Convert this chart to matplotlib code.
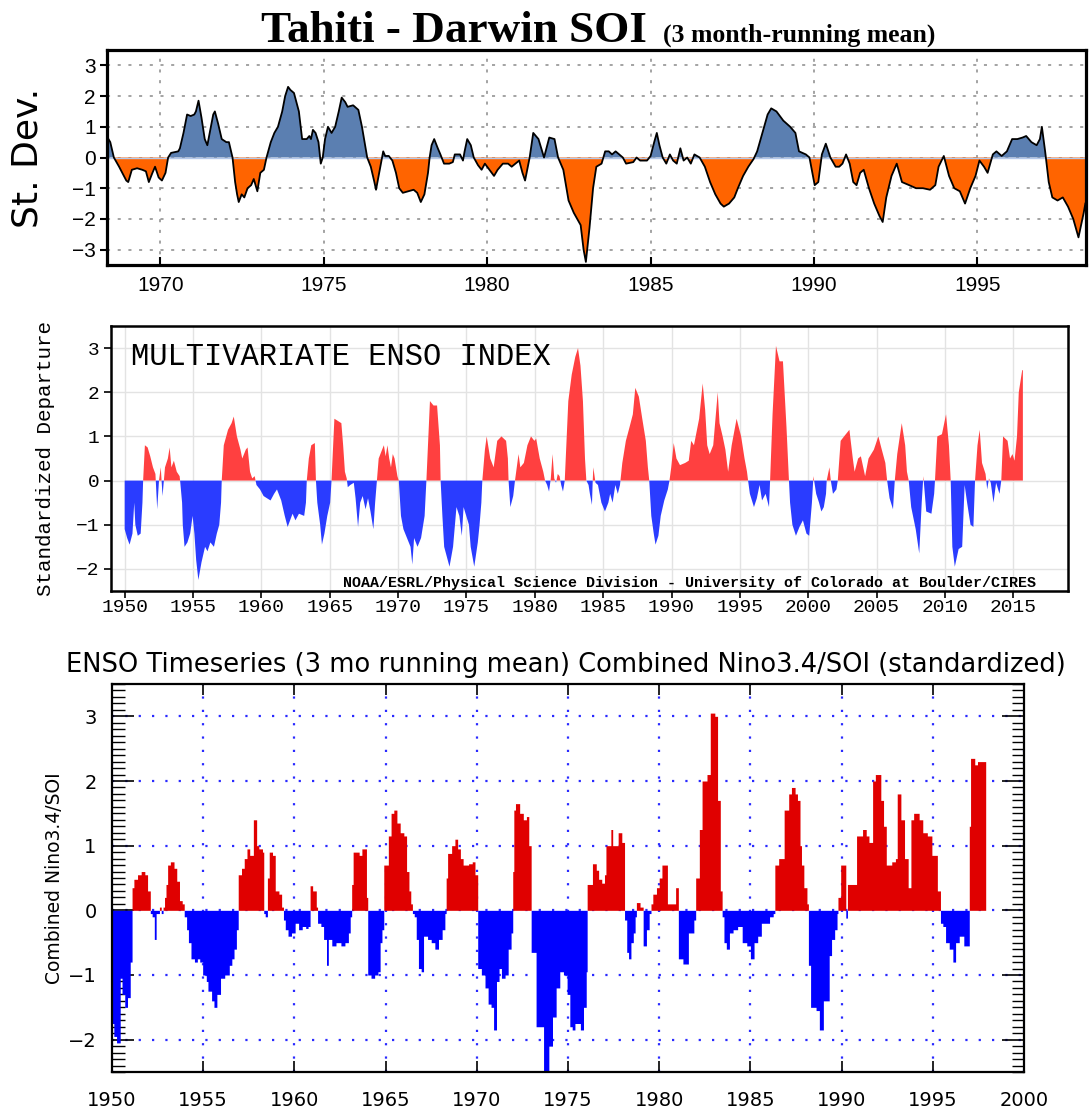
import matplotlib
matplotlib.use("Agg")
import matplotlib.pyplot as plt
import numpy as np
from matplotlib.ticker import MultipleLocator

# --- Tahiti - Darwin SOI (3 month running mean) ---
soi_year = np.array([
    1968.36, 1968.47, 1968.58, 1968.74, 1968.96, 1969.02, 1969.13, 1969.29, 1969.45, 1969.56, 1969.65, 1969.76, 1969.84, 1969.95,
    1970.05, 1970.16, 1970.24, 1970.33, 1970.55, 1970.60, 1970.71, 1970.82, 1970.93, 1971.04, 1971.09, 1971.17, 1971.26, 1971.36, 1971.44, 1971.53, 1971.62, 1971.67, 1971.77, 1971.88,
    1972.02, 1972.10, 1972.21, 1972.29, 1972.35, 1972.40, 1972.49, 1972.57, 1972.67, 1972.78, 1972.86, 1972.97,
    1973.06, 1973.17, 1973.25, 1973.38, 1973.49, 1973.60, 1973.73, 1973.82, 1973.91, 1973.98,
    1974.09, 1974.24, 1974.34, 1974.48, 1974.56, 1974.61, 1974.67, 1974.75, 1974.84, 1974.91, 1974.97,
    1975.04, 1975.13, 1975.24, 1975.35, 1975.46, 1975.55, 1975.66, 1975.73, 1975.90,
    1976.06, 1976.17, 1976.28, 1976.33, 1976.44, 1976.55, 1976.60, 1976.68, 1976.75, 1976.82, 1976.88, 1976.99,
    1977.10, 1977.21, 1977.31, 1977.42, 1977.59, 1977.75, 1977.86, 1977.97,
    1978.08, 1978.19, 1978.24, 1978.30, 1978.38, 1978.49, 1978.57, 1978.68, 1978.84, 1978.95,
    1979.01, 1979.17, 1979.26, 1979.31, 1979.39, 1979.50, 1979.59, 1979.72, 1979.83, 1979.93,
    1980.07, 1980.21, 1980.32, 1980.48, 1980.64, 1980.75, 1980.98,
    1981.08, 1981.16, 1981.30, 1981.41, 1981.57, 1981.74, 1981.90,
    1982.06, 1982.17, 1982.33, 1982.49, 1982.65, 1982.86, 1982.95,
    1983.02, 1983.13, 1983.24, 1983.34, 1983.50, 1983.61, 1983.72, 1983.82, 1983.93,
    1984.15, 1984.25, 1984.47, 1984.57, 1984.68, 1984.89,
    1985.00, 1985.11, 1985.19, 1985.27, 1985.37, 1985.48, 1985.59, 1985.69, 1985.80, 1985.91,
    1986.01, 1986.12, 1986.23, 1986.34, 1986.50, 1986.66, 1986.82, 1986.98,
    1987.14, 1987.24, 1987.40, 1987.56, 1987.67, 1987.83, 1987.99,
    1988.15, 1988.26, 1988.42, 1988.58, 1988.69, 1988.85,
    1989.06, 1989.27, 1989.43, 1989.54, 1989.75, 1989.86,
    1990.02, 1990.13, 1990.24, 1990.36, 1990.50, 1990.66, 1990.77, 1990.87, 1990.98,
    1991.09, 1991.20, 1991.30, 1991.41, 1991.52, 1991.68, 1991.84,
    1992.00, 1992.10, 1992.21, 1992.37, 1992.53, 1992.69, 1992.91,
    1993.12, 1993.33, 1993.55, 1993.71, 1993.81, 1993.97,
    1994.13, 1994.29, 1994.46, 1994.62, 1994.78, 1994.94,
    1995.06, 1995.20, 1995.31, 1995.47, 1995.58, 1995.74, 1995.90,
    1996.06, 1996.22, 1996.38, 1996.49, 1996.65, 1996.81, 1996.91, 1996.97,
    1997.07, 1997.18, 1997.29, 1997.45, 1997.61, 1997.77, 1997.93,
    1998.09, 1998.25, 1998.30])
soi_val = np.array([
    0.7, 0.5, 0.0, -0.3, -0.75, -0.8, -0.4, -0.35, -0.4, -0.45, -0.8, -0.5, -0.3, -0.65,
    -0.75, -0.5, 0.0, 0.15, 0.2, 0.3, 0.8, 1.4, 1.35, 1.4, 1.5, 1.85, 1.3, 0.6, 0.4, 0.9, 1.4, 1.5, 1.1, 0.6,
    0.5, 0.5, 0.0, -0.8, -1.2, -1.45, -1.2, -1.3, -1.0, -0.9, -0.7, -1.1,
    -0.5, -0.4, 0.0, 0.5, 0.8, 1.0, 1.5, 2.0, 2.3, 2.2,
    2.1, 1.5, 0.6, 0.6, 0.7, 0.6, 0.9, 0.8, 0.5, -0.2, 0.0,
    0.6, 1.0, 0.8, 1.0, 1.5, 1.95, 1.8, 1.65, 1.7,
    1.55, 1.0, 0.3, 0.0, -0.3, -0.8, -1.05, -0.6, -0.2, 0.2, 0.05, 0.05,
    -0.1, -0.5, -1.0, -1.15, -1.1, -1.05, -1.15, -1.45,
    -1.2, -0.5, 0.0, 0.4, 0.6, 0.3, 0.1, -0.2, -0.2, -0.15,
    0.1, 0.1, -0.1, 0.2, 0.6, 0.4, 0.0, -0.25, -0.4, -0.2,
    -0.4, -0.6, -0.4, -0.2, -0.2, -0.3, -0.1,
    -0.5, -0.75, 0.0, 0.8, 0.6, 0.0, 0.65,
    0.6, 0.0, -0.4, -1.4, -1.8, -2.2, -3.0,
    -3.4, -2.3, -1.0, -0.3, -0.2, 0.2, 0.2, 0.1, 0.2,
    0.0, -0.2, -0.15, 0.0, -0.1, -0.1,
    0.05, 0.5, 0.8, 0.4, 0.0, -0.2, 0.1, -0.1, -0.2, 0.3,
    -0.1, 0.0, -0.2, 0.1, 0.0, -0.3, -0.8, -1.2,
    -1.5, -1.6, -1.5, -1.3, -1.0, -0.6, -0.3,
    -0.05, 0.2, 0.8, 1.4, 1.6, 1.5,
    1.2, 1.0, 0.8, 0.2, 0.1, 0.0,
    -0.9, -0.8, 0.1, 0.45, 0.0, -0.3, -0.3, -0.2, 0.1,
    -0.2, -0.8, -0.9, -0.5, -0.4, -1.0, -1.5,
    -1.9, -2.1, -1.3, -0.6, -0.2, -0.8, -0.9,
    -1.0, -1.0, -1.05, -0.9, -0.3, 0.05,
    -0.6, -1.0, -1.1, -1.5, -1.0, -0.6,
    -0.1, -0.3, -0.5, 0.1, 0.2, 0.05, 0.2,
    0.6, 0.6, 0.65, 0.7, 0.5, 0.4, 0.6, 1.0,
    0.2, -0.8, -1.3, -1.4, -1.3, -1.6, -2.0,
    -2.6, -1.8, -1.5])

# --- Multivariate ENSO Index ---
mei_year = np.array([
    1950.00, 1950.18, 1950.36, 1950.57, 1950.70, 1950.78, 1950.96,
    1951.17, 1951.30, 1951.35, 1951.48, 1951.68, 1951.87,
    1952.07, 1952.25, 1952.38, 1952.51, 1952.64, 1952.77, 1952.95,
    1953.16, 1953.29, 1953.42, 1953.60, 1953.81,
    1954.02, 1954.07, 1954.20, 1954.25, 1954.38, 1954.59, 1954.79, 1954.97,
    1955.10, 1955.23, 1955.39, 1955.62, 1955.88,
    1956.06, 1956.27, 1956.53, 1956.74, 1956.92,
    1957.05, 1957.10, 1957.25, 1957.56, 1957.82, 1957.98,
    1958.21, 1958.47, 1958.60, 1958.86, 1958.99,
    1959.17, 1959.33, 1959.51, 1959.64, 1959.90,
    1960.16, 1960.41, 1960.67, 1960.93,
    1961.14, 1961.45, 1961.71, 1961.92,
    1962.10, 1962.28, 1962.49, 1962.75,
    1963.13, 1963.26, 1963.32, 1963.47, 1963.65, 1963.91, 1963.99,
    1964.09, 1964.30, 1964.43, 1964.61, 1964.82,
    1965.03, 1965.13, 1965.34, 1965.60, 1965.85, 1965.98,
    1966.11, 1966.24, 1966.32, 1966.50, 1966.76, 1966.89,
    1967.07, 1967.23, 1967.41, 1967.62, 1967.80, 1967.98,
    1968.19, 1968.32, 1968.45, 1968.58, 1968.83, 1968.96,
    1969.09, 1969.22, 1969.35, 1969.48, 1969.61, 1969.74, 1969.95,
    1970.05, 1970.21, 1970.39, 1970.65, 1970.91,
    1971.04, 1971.17, 1971.42, 1971.68, 1971.94,
    1972.07, 1972.33, 1972.59, 1972.85,
    1973.06, 1973.11, 1973.24, 1973.37, 1973.76,
    1974.02, 1974.27, 1974.48, 1974.66, 1974.79,
    1975.18, 1975.31, 1975.57, 1975.83, 1975.96,
    1976.09, 1976.16, 1976.35, 1976.48, 1976.74, 1976.99,
    1977.25, 1977.56, 1977.90,
    1978.03, 1978.08, 1978.21, 1978.42, 1978.55, 1978.81, 1978.94,
    1979.20, 1979.46, 1979.72, 1979.97,
    1980.10, 1980.36, 1980.62, 1980.75, 1980.90,
    1981.04, 1981.17, 1981.30, 1981.42, 1981.55, 1981.68, 1981.81, 1981.93,
    1982.06, 1982.19, 1982.45, 1982.70, 1982.96,
    1983.16, 1983.34, 1983.52, 1983.67, 1983.77, 1983.93,
    1984.03, 1984.18, 1984.23, 1984.28, 1984.44, 1984.62, 1984.87,
    1985.13, 1985.38, 1985.51, 1985.69, 1985.89,
    1986.07, 1986.23, 1986.40, 1986.66, 1986.92,
    1987.17, 1987.35, 1987.61, 1987.86,
    1988.12, 1988.27, 1988.37, 1988.52, 1988.70, 1988.83,
    1989.04, 1989.21, 1989.47, 1989.73, 1989.85, 1989.98,
    1990.16, 1990.36, 1990.62,
    1991.00, 1991.26, 1991.44, 1991.64,
    1992.02, 1992.28, 1992.46, 1992.61, 1992.79,
    1993.05, 1993.38, 1993.51, 1993.74, 1993.94,
    1994.14, 1994.40, 1994.76,
    1995.09, 1995.34, 1995.52, 1995.60, 1995.73,
    1996.03, 1996.24, 1996.44, 1996.62, 1996.88,
    1997.13, 1997.21, 1997.39, 1997.64, 1997.90,
    1998.15, 1998.41, 1998.59, 1998.67, 1998.84,
    1999.10, 1999.36, 1999.61, 1999.87,
    2000.07, 2000.27, 2000.38, 2000.58, 2000.79, 2000.96,
    2001.14, 2001.30, 2001.35, 2001.55, 2001.65, 2001.81,
    2002.06, 2002.16, 2002.37, 2002.62,
    2003.01, 2003.26, 2003.39, 2003.65, 2003.85,
    2004.16, 2004.41, 2004.80,
    2005.13, 2005.38, 2005.64, 2005.77, 2005.95,
    2006.20, 2006.33, 2006.51, 2006.84,
    2007.09, 2007.22, 2007.35, 2007.53, 2007.86,
    2008.12, 2008.30, 2008.42, 2008.63,
    2009.01, 2009.21, 2009.27, 2009.44, 2009.78,
    2010.08, 2010.29, 2010.42, 2010.54, 2010.72,
    2011.00, 2011.26, 2011.44, 2011.62, 2011.87,
    2012.08, 2012.20, 2012.38, 2012.54, 2012.71, 2012.97,
    2013.09, 2013.22, 2013.35, 2013.55, 2013.74, 2013.99,
    2014.12, 2014.25, 2014.58, 2014.76, 2014.94,
    2015.09, 2015.27, 2015.40, 2015.65, 2015.70])
mei_val = np.array([
    -1.1, -1.3, -1.45, -1.2, -0.5, -1.0, -1.25,
    -1.2, -0.5, 0.0, 0.8, 0.75, 0.55,
    0.3, 0.15, -0.65, 0.0, 0.3, -0.35, 0.3,
    0.5, 0.75, 0.3, 0.45, 0.2,
    0.1, -0.05, -0.5, -1.0, -1.5, -1.4, -1.2, -0.8,
    -1.2, -1.8, -2.25, -1.85, -1.5,
    -1.6, -1.4, -1.5, -1.2, -1.0,
    -0.5, 0.0, 0.8, 1.15, 1.3, 1.45,
    1.0, 0.7, 0.5, 0.7, 0.75,
    0.2, 0.05, 0.1, -0.1, -0.2,
    -0.35, -0.4, -0.45, -0.3,
    -0.2, -0.45, -0.8, -1.05,
    -0.9, -0.75, -0.9, -0.75,
    -0.8, -0.5, 0.0, 0.5, 0.8, 0.85, 0.0,
    -0.5, -1.0, -1.45, -1.2, -0.8,
    -0.5, 0.0, 1.4, 1.35, 1.3, 0.8,
    0.2, 0.05, -0.15, -0.1, -0.05, -0.4,
    -1.05, -0.5, -0.35, -0.65, -0.4, -0.7,
    -1.1, -0.5, 0.0, 0.5, 0.7, 0.8,
    0.55, 0.8, 0.5, 0.3, 0.6, 0.5, 0.1,
    0.0, -0.8, -1.1, -1.3, -1.5,
    -1.9, -1.3, -1.5, -1.3, -0.8,
    0.0, 1.8, 1.7, 1.7,
    0.8, 0.0, -0.8, -1.5, -1.95,
    -1.5, -0.6, -0.8, -1.25, -0.6,
    -1.0, -1.5, -1.95, -1.4, -1.0,
    -0.5, 0.0, 0.7, 1.0, 0.5, 0.3,
    0.9, 1.0, 0.9,
    0.5, 0.0, -0.6, -0.35, 0.0, 0.6, 0.3,
    0.4, 0.8, 1.0, 0.9,
    0.95, 0.5, 0.2, 0.0, -0.1,
    -0.25, 0.05, 0.6, 0.05, -0.05, 0.15, 0.1, -0.1,
    -0.25, 0.0, 1.8, 2.4, 2.8,
    3.0, 2.6, 1.8, 0.5, 0.0, -0.1,
    -0.3, -0.55, -0.05, 0.3, -0.05, -0.1, -0.5,
    -0.7, -0.5, -0.3, -0.5, -0.1,
    -0.3, -0.1, 0.4, 0.9, 1.2,
    1.5, 2.1, 1.9, 1.4,
    0.9, 0.3, 0.0, -0.8, -1.2, -1.45,
    -1.25, -0.8, -0.45, -0.2, 0.0, 0.3,
    0.85, 0.5, 0.35,
    0.4, 0.45, 0.9, 0.8,
    1.4, 2.2, 1.6, 0.8, 0.6,
    0.8, 2.0, 1.3, 1.0, 0.7,
    0.2, 0.8, 1.4,
    1.0, 0.5, 0.2, 0.0, -0.3,
    -0.6, -0.4, -0.1, -0.45, -0.3,
    -0.6, 0.0, 1.5, 3.05, 2.7,
    2.7, 1.2, 0.0, -0.5, -1.0,
    -1.25, -1.05, -0.9, -1.2,
    -1.25, -0.5, 0.1, -0.3, -0.5, -0.7,
    -0.6, -0.3, 0.0, 0.3, 0.0, -0.3,
    -0.2, 0.0, 0.9, 1.0,
    1.15, 0.5, 0.2, 0.5, 0.55,
    0.1, 0.5, 0.7,
    1.0, 0.7, 0.4, 0.0, -0.4,
    -0.65, 0.0, 0.6, 1.3,
    0.8, 0.2, 0.0, -0.6, -1.1,
    -1.65, -0.5, 0.1, -0.7,
    -0.75, -0.3, 0.0, 1.0, 1.05,
    1.5, 0.8, 0.0, -1.5, -1.95,
    -1.55, -1.5, -0.1, -0.5, -1.0,
    -1.05, 0.0, 0.8, 1.15, 0.4, 0.15,
    -0.2, 0.05, -0.05, -0.5, -0.05, -0.3,
    0.0, 1.0, 0.9, 0.5, 0.6,
    0.45, 1.0, 2.0, 2.5, 2.5])

# --- Combined Nino3.4/SOI, step values (start of each step) ---
cn_year = np.array([
    1950.00, 1950.10, 1950.25, 1950.45, 1950.55, 1950.70, 1950.85,
    1951.00, 1951.10, 1951.20, 1951.40, 1951.60, 1951.80, 1951.95,
    1952.10, 1952.20, 1952.32, 1952.42, 1952.60, 1952.70, 1952.80, 1952.88, 1952.96,
    1953.05, 1953.20, 1953.40, 1953.55, 1953.70, 1953.85, 1953.96,
    1954.09, 1954.19, 1954.33, 1954.52, 1954.68, 1954.81, 1954.97,
    1955.17, 1955.26, 1955.46, 1955.59, 1955.75, 1955.95,
    1956.18, 1956.43, 1956.57, 1956.69, 1956.82, 1956.92,
    1957.10, 1957.25, 1957.40, 1957.55, 1957.75, 1957.93,
    1958.05, 1958.25, 1958.32, 1958.40, 1958.52, 1958.62, 1958.80, 1958.95,
    1959.15, 1959.30, 1959.40, 1959.50, 1959.65, 1959.84,
    1960.04, 1960.23, 1960.43, 1960.62, 1960.75, 1960.86,
    1961.00, 1961.20, 1961.27, 1961.45, 1961.60, 1961.76, 1961.86,
    1962.05, 1962.28, 1962.55, 1962.77, 1962.96,
    1963.06, 1963.14, 1963.22, 1963.45, 1963.55, 1963.70, 1963.95,
    1964.02, 1964.20, 1964.40, 1964.58, 1964.70, 1964.80, 1964.90,
    1965.15, 1965.30, 1965.45, 1965.62, 1965.80,
    1966.00, 1966.15, 1966.28, 1966.38, 1966.47, 1966.57, 1966.68, 1966.80, 1966.95,
    1967.08, 1967.30, 1967.50, 1967.70, 1967.90,
    1968.10, 1968.25, 1968.32, 1968.40, 1968.62, 1968.80, 1968.95,
    1969.10, 1969.25, 1969.55, 1969.75, 1969.90,
    1970.05, 1970.25, 1970.45, 1970.62, 1970.78, 1970.92,
    1971.08, 1971.22, 1971.35, 1971.55, 1971.72, 1971.88, 1971.97,
    1972.03, 1972.12, 1972.35, 1972.55, 1972.72, 1972.85, 1972.98,
    1973.25, 1973.66, 1973.95,
    1974.15, 1974.35, 1974.55, 1974.75, 1974.95,
    1975.10, 1975.23, 1975.38, 1975.68, 1975.85,
    1976.00, 1976.05, 1976.34, 1976.55, 1976.68, 1976.85,
    1977.00, 1977.08, 1977.35, 1977.45, 1977.75, 1977.95,
    1978.10, 1978.22, 1978.32, 1978.45, 1978.58, 1978.68, 1978.75, 1978.95,
    1979.12, 1979.30, 1979.45, 1979.55, 1979.65, 1979.85,
    1980.00, 1980.15, 1980.45, 1980.90,
    1981.05, 1981.30, 1981.60, 1981.90,
    1982.00, 1982.20, 1982.35, 1982.62, 1982.80,
    1983.05, 1983.20, 1983.35, 1983.45, 1983.55, 1983.68, 1983.85,
    1984.05, 1984.30, 1984.55, 1984.80,
    1985.00, 1985.20, 1985.40, 1985.60,
    1986.05, 1986.25, 1986.34, 1986.55, 1986.85,
    1987.10, 1987.25, 1987.45, 1987.58, 1987.72, 1987.80, 1987.93,
    1988.10, 1988.18, 1988.30, 1988.60, 1988.78,
    1989.00, 1989.32, 1989.45, 1989.62, 1989.75, 1989.80, 1989.95,
    1990.23, 1990.32, 1990.82,
    1991.15, 1991.35, 1991.50, 1991.70, 1991.85,
    1992.15, 1992.30, 1992.45, 1992.75, 1992.95,
    1993.05, 1993.25, 1993.45, 1993.65, 1993.80, 1993.95,
    1994.25, 1994.45, 1994.70, 1994.95,
    1995.25, 1995.42, 1995.55, 1995.70, 1995.90,
    1996.10, 1996.25, 1996.45, 1996.70,
    1997.00, 1997.07, 1997.30, 1997.45])
cn_end = 1997.90  # last month of the record
cn_val = np.array([
    -1.75, -1.95, -2.05, -1.05, -1.3, -1.5, -1.35,
    -0.8, 0.35, 0.48, 0.55, 0.6, 0.55, 0.3,
    -0.05, -0.1, -0.45, -0.05, 0.05, -0.05, 0.05, 0.2, 0.4,
    0.7, 0.75, 0.65, 0.45, 0.15, 0.1, -0.1,
    -0.3, -0.5, -0.75, -0.8, -0.75, -0.8, -1.0,
    -1.1, -1.25, -1.4, -1.5, -1.3, -1.05,
    -1.0, -0.85, -0.75, -0.6, -0.3, 0.55,
    0.65, 0.8, 0.95, 0.85, 1.4, 1.0,
    0.95, 0.9, -0.05, -0.1, 0.5, 0.9, 0.85, 0.3,
    0.25, 0.05, -0.15, -0.3, -0.4, -0.35,
    -0.2, -0.3, -0.25, -0.28, -0.25, 0.38,
    0.3, 0.05, -0.2, -0.25, -0.45, -0.85, -0.45,
    -0.55, -0.5, -0.55, -0.5, -0.35,
    -0.1, 0.4, 0.9, 0.9, 0.85, 0.95, 0.2,
    -1.0, -1.05, -1.0, -0.95, -0.5, -0.3, 0.7,
    1.15, 1.5, 1.55, 1.35, 1.2,
    1.15, 0.6, 0.3, 0.1, -0.05, -0.1, -0.45, -0.9, -0.95,
    -0.4, -0.45, -0.5, -0.6, -0.45,
    -0.3, -0.05, 0.5, 0.88, 1.0, 1.1, 0.95,
    0.8, 0.7, 0.72, 0.75, 0.55,
    -0.9, -1.0, -1.2, -1.45, -1.5, -1.85,
    -1.1, -0.9, -1.05, -1.0, -0.6, -0.35, 0.6,
    1.55, 1.65, 1.5, 1.4, 1.45, 1.0, -0.65,
    -1.8, -2.5, -2.1,
    -1.65, -1.2, -0.95, -1.0, -1.3,
    -1.8, -1.85, -1.75, -1.85, -1.5,
    -0.95, 0.4, 0.72, 0.62, 0.48, 0.42,
    0.55, 1.0, 1.25, 1.0, 1.2, 1.05,
    -0.15, -0.65, -0.75, -0.5, -0.35, -0.1, 0.12, 0.05,
    -0.55, -0.3, -0.05, 0.1, 0.25, 0.35,
    0.5, 0.7, 0.1, 0.35,
    -0.75, -0.83, -0.35, -0.15,
    0.5, 1.25, 2.0, 2.1, 3.05,
    3.0, 1.7, 0.3, -0.1, -0.5, -0.6, -0.35,
    -0.3, -0.25, -0.5, -0.55,
    -0.75, -0.5, -0.4, -0.2,
    -0.1, -0.05, 0.7, 0.8, 1.55,
    1.8, 1.9, 1.8, 1.7, 1.0, 0.7, 0.35,
    0.1, -0.85, -1.5, -1.55, -1.85,
    -1.4, -0.7, -0.45, -0.3, -0.05, 0.2, 0.7,
    -0.12, 0.4, 1.15,
    1.25, 1.15, 1.05, 2.0, 2.1,
    1.7, 1.3, 0.7, 0.75, 0.8,
    1.8, 1.4, 0.8, 0.35, 1.4, 1.5,
    1.4, 1.2, 1.15, 0.85,
    0.3, -0.2, -0.25, -0.5, -0.6,
    -0.8, -0.5, -0.4, -0.55,
    1.3, 2.35, 2.25, 2.3])

assert len(soi_year) == len(soi_val)
assert len(mei_year) == len(mei_val)
assert len(cn_year) == len(cn_val)

W, H = 1089, 1109
plt.rcParams["font.family"] = ["Liberation Sans", "DejaVu Sans"]
fig = plt.figure(figsize=(W / 100, H / 100), dpi=100)


def box(left, top, right, bottom):
    # pixel box -> figure fraction
    return [left / W, 1 - bottom / H, (right - left) / W, (bottom - top) / H]


# ---------------- panel 1: SOI ----------------
ax1 = fig.add_axes(box(107, 50, 1086, 265))
ax1.fill_between(soi_year, soi_val, 0, where=soi_val >= 0, interpolate=True,
                 color="#5b7fb1", lw=0, zorder=2)
ax1.fill_between(soi_year, soi_val, 0, where=soi_val <= 0, interpolate=True,
                 color="#ff6400", lw=0, zorder=2)
ax1.axhline(0, color="#b4c8ea", lw=1, zorder=2.5)
ax1.plot(soi_year, soi_val, color="black", lw=1.3, zorder=3)
ax1.set_xlim(1968.37, 1998.32)
ax1.set_ylim(-3.5, 3.5)
ax1.set_xticks(np.arange(1970, 1996, 5))
ax1.set_yticks(np.arange(-3, 4))
ax1.grid(True, color="#8a8a8a", linestyle=(0, (2, 5)), lw=1.1, zorder=1)
ax1.tick_params(axis="x", direction="in", length=6, width=1.5, pad=8, labelsize=15)
ax1.tick_params(axis="y", direction="out", length=5, width=1.5, pad=3, labelsize=15)
for s in ax1.spines.values():
    s.set_linewidth(2.3)
ax1.set_ylabel("St. Dev.", fontsize=26, family="DejaVu Sans")
ax1.yaxis.set_label_coords(-0.064, 0.5)
fig.text(261 / W, 1 - 42 / H, "Tahiti - Darwin SOI", family="Liberation Serif",
         weight="bold", fontsize=32.5, va="baseline")
fig.text(663 / W, 1 - 42 / H, "(3 month-running mean)", family="Liberation Serif",
         weight="bold", fontsize=18.5, va="baseline")

# ---------------- panel 2: MEI ----------------
mono = ["Liberation Mono", "DejaVu Sans Mono"]
ax2 = fig.add_axes(box(111, 326, 1068, 591))
ax2.fill_between(mei_year, mei_val, 0, where=mei_val >= 0, interpolate=True,
                 color="#ff4040", lw=0, zorder=2)
ax2.fill_between(mei_year, mei_val, 0, where=mei_val <= 0, interpolate=True,
                 color="#2a3cff", lw=0, zorder=2)
ax2.set_xlim(1949, 2019)
ax2.set_ylim(-2.5, 3.5)
ax2.set_xticks(np.arange(1950, 2016, 5))
ax2.set_yticks(np.arange(-2, 4))
ax2.grid(True, color="#e3e3e3", lw=1, zorder=1)
ax2.tick_params(axis="both", direction="out", length=5, width=1.2, labelsize=14)
ax2.tick_params(axis="x", pad=1)
for lbl in ax2.get_xticklabels() + ax2.get_yticklabels():
    lbl.set_family(mono)
for s in ax2.spines.values():
    s.set_linewidth(1.8)
ax2.set_ylabel("Standardized Departure", fontsize=15, family=mono)
ax2.yaxis.set_label_coords(-0.059, 0.5)
ax2.text(0.021, 0.853, "MULTIVARIATE ENSO INDEX", transform=ax2.transAxes,
         family=mono, fontsize=22, va="baseline")
ax2.text(0.967, 0.016, "NOAA/ESRL/Physical Science Division - University of Colorado at Boulder/CIRES",
         transform=ax2.transAxes, family=mono, fontsize=10.8, weight="bold",
         ha="right", va="baseline")

# ---------------- panel 3: combined Nino3.4/SOI ----------------
ax3 = fig.add_axes(box(112, 684, 1024, 1072))
cn_edges = np.append(cn_year, cn_end)
cn_step = np.append(cn_val, cn_val[-1])
ax3.fill_between(cn_edges, np.maximum(cn_step, 0), 0, step="post",
                 color="#e00000", lw=0, zorder=2)
ax3.fill_between(cn_edges, np.minimum(cn_step, 0), 0, step="post",
                 color="#0000ff", lw=0, zorder=2)
ax3.set_xlim(1950, 2000)
ax3.set_ylim(-2.5, 3.5)
ax3.set_xticks(np.arange(1950, 2001, 5))
ax3.set_yticks(np.arange(-2, 4))
ax3.yaxis.set_minor_locator(MultipleLocator(0.1))
ax3.grid(True, which="major", color="#2a2aff", linestyle=(0, (1, 5)), lw=1.6, zorder=3)
ax3.tick_params(axis="x", which="major", direction="in", length=8, width=1.2,
                top=True, pad=14, labelsize=14)
ax3.tick_params(axis="y", which="major", direction="in", length=16, width=1.2,
                right=True, pad=11, labelsize=14)
ax3.tick_params(axis="y", which="minor", direction="in", length=9, width=1.0, right=True)
for lbl in ax3.get_xticklabels() + ax3.get_yticklabels():
    lbl.set_family("DejaVu Sans")
for s in ax3.spines.values():
    s.set_linewidth(1.6)
ax3.set_ylabel("Combined Nino3.4/SOI", fontsize=13.5, family="DejaVu Sans")
ax3.yaxis.set_label_coords(-0.053, 0.5)
fig.text(566 / W, 1 - 665 / H,
         "ENSO Timeseries (3 mo running mean) Combined Nino3.4/SOI (standardized)",
         family="DejaVu Sans", fontsize=18.5, ha="center", va="center")

fig.savefig("out.png", dpi=100)
